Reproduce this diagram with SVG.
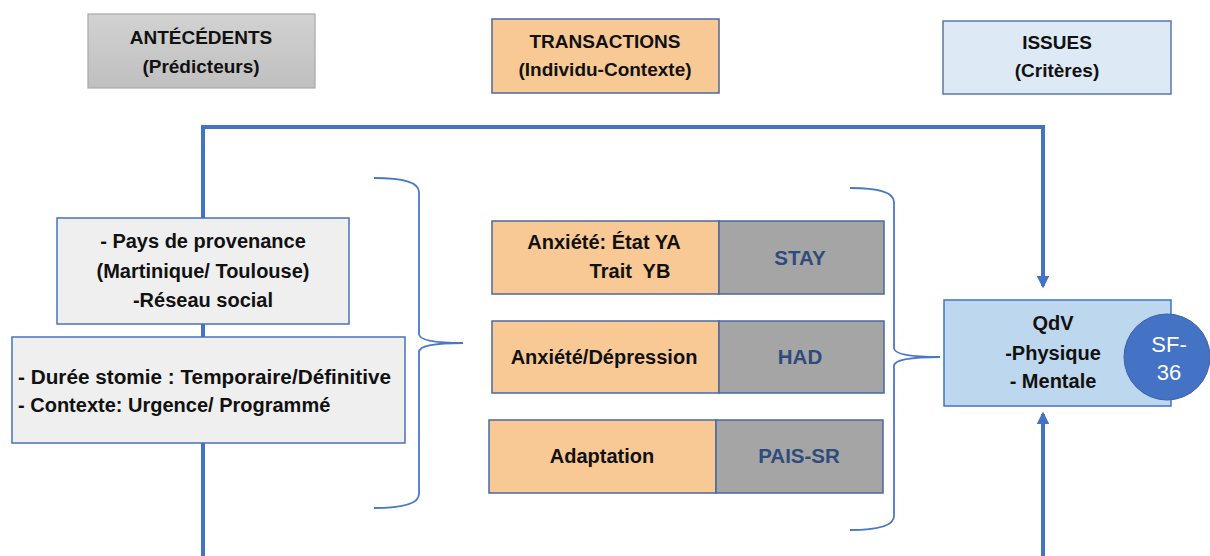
<svg xmlns="http://www.w3.org/2000/svg" width="1210" height="556" viewBox="0 0 1210 556">
<style>
text{font-family:"Liberation Sans",Arial,sans-serif;font-weight:bold;fill:#111;text-anchor:middle}
.hd{font-size:19px}
.t{font-size:20px}
.code{font-size:20.5px;fill:#2f4b7c}
.lbox{fill:#efefef;stroke:#4a72b8;stroke-width:1.5}
.or{fill:#f8c995;stroke:#4a6aa0;stroke-width:1.5}
.gr{fill:#a5a5a5;stroke:#4a6aa0;stroke-width:1.5}
.brace{fill:none;stroke:#4a78c8;stroke-width:1.8}
.main{fill:none;stroke:#4472c4;stroke-width:4}
</style>
<defs>
<linearGradient id="gGrey" x1="0" y1="0" x2="0" y2="1">
<stop offset="0" stop-color="#d2d2d2"/><stop offset="1" stop-color="#bfbfbf"/>
</linearGradient>
<marker id="arr" viewBox="0 0 10 10" refX="8" refY="5" markerWidth="3.2" markerHeight="3.2" orient="auto" markerUnits="strokeWidth">
<path d="M0,0 L10,5 L0,10 z" fill="#4472c4"/>
</marker>
</defs>
<rect width="1210" height="556" fill="#ffffff"/>

<g id="connectors">
<path class="main" d="M203,556 L203,127 L1043,127 L1043,286" marker-end="url(#arr)"/>
<path class="main" d="M1043,556 L1043,414" marker-end="url(#arr)"/>
<path class="brace" d="M374,178 Q419,178 419,192 L419,334 Q419,343 463,343 Q419,343 419,352 L419,494 Q419,508 374,508"/>
<path class="brace" d="M850,188 Q894,188 894,202 L894,348 Q894,357 940,357 Q894,357 894,366 L894,516 Q894,530 850,530"/>
</g>

<g id="h-antecedents">
<rect x="88" y="14" width="227" height="74" fill="url(#gGrey)" stroke="#a9a9a9" stroke-width="1.2"/>
<text class="hd" x="201" y="44">ANTÉCÉDENTS</text>
<text class="hd" x="201" y="73">(Prédicteurs)</text>
</g>
<g id="h-transactions">
<rect x="492" y="19" width="227" height="74" fill="#f8c995" stroke="#4a6aa0" stroke-width="1.5"/>
<text class="hd" x="605" y="48">TRANSACTIONS</text>
<text class="hd" x="605" y="76">(Individu-Contexte)</text>
</g>
<g id="h-issues">
<rect x="943" y="21" width="228" height="73" fill="#dde9f5" stroke="#5a78a8" stroke-width="1.5"/>
<text class="hd" x="1057" y="49">ISSUES</text>
<text class="hd" x="1057" y="77">(Critères)</text>
</g>

<g id="n-pays">
<rect class="lbox" x="57" y="218" width="292" height="106"/>
<text class="t" x="203" y="248">- Pays de provenance</text>
<text class="t" x="203" y="278">(Martinique/ Toulouse)</text>
<text class="t" x="203" y="307">-Réseau social</text>
</g>
<g id="n-duree">
<rect class="lbox" x="12" y="337" width="393" height="106"/>
<text class="t" x="18" y="384" style="text-anchor:start" textLength="373" lengthAdjust="spacingAndGlyphs">- Durée stomie : Temporaire/Définitive</text>
<text class="t" x="18" y="412" style="text-anchor:start">- Contexte: Urgence/ Programmé</text>
</g>

<g id="n-stay">
<rect class="or" x="492" y="221" width="227" height="73"/>
<rect class="gr" x="719" y="221" width="165" height="73"/>
<text class="t" x="604" y="249">Anxiété: État YA</text>
<text class="t" x="630" y="278" xml:space="preserve">Trait  YB</text>
<text class="code" x="800" y="265">STAY</text>
</g>
<g id="n-had">
<rect class="or" x="492" y="321" width="227" height="72"/>
<rect class="gr" x="719" y="321" width="165" height="72"/>
<text class="t" x="604" y="364">Anxiété/Dépression</text>
<text class="code" x="800" y="364">HAD</text>
</g>
<g id="n-pais">
<rect class="or" x="489" y="420" width="227" height="73"/>
<rect class="gr" x="716" y="420" width="167" height="73"/>
<text class="t" x="602" y="463">Adaptation</text>
<text class="code" x="799" y="463">PAIS-SR</text>
</g>

<g id="n-qdv">
<rect x="944" y="300" width="227" height="106" fill="#bdd7ee" stroke="#4472c4" stroke-width="1.5"/>
<text class="t" x="1053" y="330">QdV</text>
<text class="t" x="1053" y="360">-Physique</text>
<text class="t" x="1053" y="388">- Mentale</text>
</g>
<g id="n-sf36">
<ellipse cx="1167" cy="357" rx="43" ry="43" fill="#4472c4" stroke="#3a62a8" stroke-width="1"/>
<text x="1169" y="352" style="font-size:22px;font-weight:normal;fill:#ffffff">SF-</text>
<text x="1169" y="380" style="font-size:22px;font-weight:normal;fill:#ffffff">36</text>
</g>
</svg>
